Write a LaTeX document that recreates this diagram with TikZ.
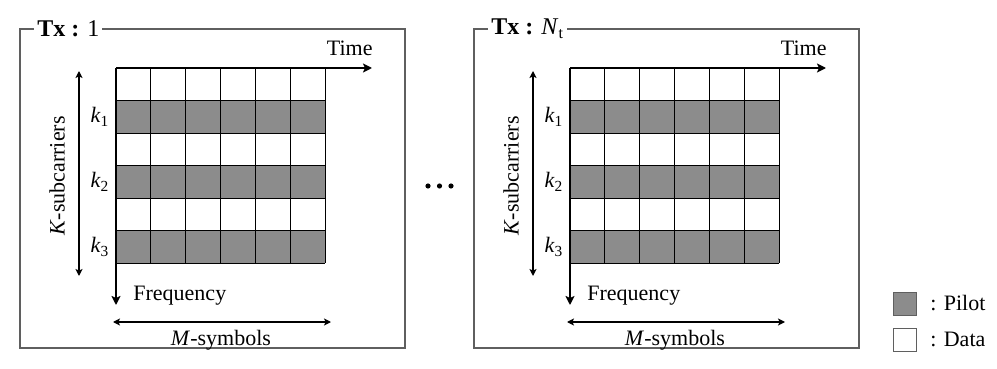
\documentclass[tikz,border=0pt]{standalone}
\usepackage{fontspec}
\setmainfont{Liberation Serif}
\usepackage{tikz}
\usetikzlibrary{arrows.meta,positioning,calc}
\definecolor{cPilot}{RGB}{140,140,140}
\definecolor{cFrame}{RGB}{95,95,95}
\tikzset{
  frame/.style={draw=cFrame, line width=0.55pt},
  cell/.style={draw=black, line width=0.45pt},
  ax/.style={-{Stealth[length=4.5pt, width=4.5pt, inset=1pt]}, line width=1pt},
  span/.style={{Stealth[length=3.5pt, width=3.5pt, inset=0.8pt]}-{Stealth[length=3.5pt, width=3.5pt, inset=0.8pt]}, line width=0.65pt},
  lbl/.style={font=\fontsize{11}{13}\selectfont, inner sep=0pt},
  ttl/.style={font=\fontsize{12}{14}\selectfont, fill=white, inner xsep=1.5pt, inner ysep=0pt},
  key/.style={draw=cFrame, line width=0.5pt, minimum size=11.5pt, inner sep=0pt},
}

\begin{document}
\begin{tikzpicture}[x=0.5pt, y=-0.5pt]
\useasboundingbox (0,0) rectangle (997,369);

% one panel per transmit antenna: {name}{shift}{index}
\foreach \p/\sx/\num in {a/0/1, b/454/{\textit{N}\textsubscript{t}}} {
\begin{scope}[shift={(\sx,0)}]
  % frame and title
  \draw[frame] (20,29) rectangle (405,348);
  \node[ttl, anchor=west] (tx\p) at (34,29) {\textbf{Tx :} \num};

  % pilot rows and cell grid
  \foreach \r in {1,3,5}
    \fill[cPilot] (116,68+\r*32.5) rectangle (325,100.5+\r*32.5);
  \foreach \r in {0,...,6}
    \draw[cell] (116,68+\r*32.5) -- (325,68+\r*32.5);
  \foreach \c in {0,...,6}
    \draw[cell] (116+\c*34.83,68) -- (116+\c*34.83,263);

  % time / frequency axes
  \coordinate (o\p) at (116,68);
  \coordinate (te\p) at (372,68);
  \coordinate (fe\p) at (116,305);
  \draw[ax] (o\p) -- (te\p);
  \draw[ax] (o\p) -- (fe\p);
  \node[lbl, anchor=base east] (time\p) at (373,56) {Time};
  \node[lbl, anchor=base west] (freq\p) at (133,300) {Frequency};

  % pilot subcarrier indices
  \foreach \i/\yy in {1/117, 2/182, 3/247}
    \node[lbl] (k\i\p) at (100,\yy) {\textit{k}\textsubscript{\i}};

  % K-subcarriers span
  \coordinate (kt\p) at (79,71);
  \coordinate (kb\p) at (79,276);
  \draw[span] (kt\p) -- (kb\p);
  \node[lbl, rotate=90] (ksub\p) at (57,176) {\textit{K}-subcarriers};

  % M-symbols span
  \coordinate (ml\p) at (113,322);
  \coordinate (mr\p) at (331,322);
  \draw[span] (ml\p) -- (mr\p);
  \node[lbl, anchor=base] (msym\p) at (221,345) {\textit{M}-symbols};
\end{scope}
}

% dots between panels
\foreach \d in {428,439.5,451}
  \fill (\d,186) circle (2.6);

% legend
\node[key, fill=cPilot] (pilotkey) at (905,303.5) {};
\node[key, fill=white] (datakey) at (905,339.5) {};
\node[lbl, right=6.5pt of pilotkey] (pilotlbl) {: Pilot};
\node[lbl, right=6.5pt of datakey] (datalbl) {: Data};
\end{tikzpicture}
\end{document}
